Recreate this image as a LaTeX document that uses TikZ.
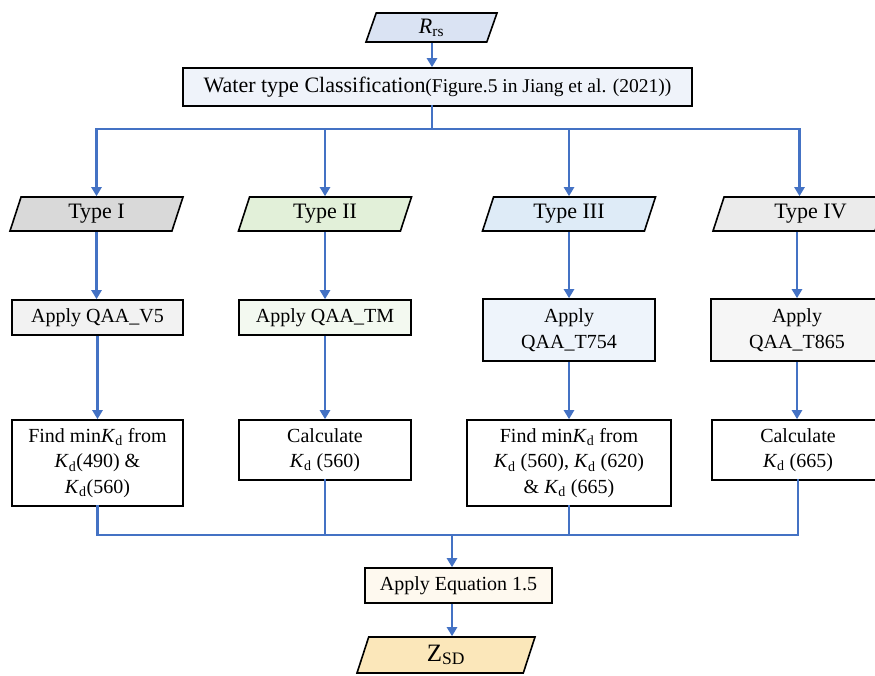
\documentclass[tikz,border=0pt]{standalone}
\usepackage{fontspec}
\setmainfont{Liberation Serif}
\usetikzlibrary{shapes.geometric,arrows.meta}
\definecolor{lineblue}{HTML}{4472C4}
\definecolor{cRrs}{HTML}{DAE3F3}
\definecolor{cCls}{HTML}{EFF3FA}
\definecolor{cTa}{HTML}{D9D9D9}
\definecolor{cTb}{HTML}{E2F0D9}
\definecolor{cTc}{HTML}{DEEBF7}
\definecolor{cTd}{HTML}{EBEBEB}
\definecolor{cAa}{HTML}{F2F2F2}
\definecolor{cAb}{HTML}{F3F9F0}
\definecolor{cAc}{HTML}{EEF4FB}
\definecolor{cAd}{HTML}{F6F6F6}
\definecolor{cEq}{HTML}{FEF9EF}
\definecolor{cZ}{HTML}{FBE7BA}
\newcommand{\KdT}{\textit{K}\textsubscript{d}}
\begin{document}
\begin{tikzpicture}[x=1pt,y=-1pt,
  box/.style={draw=black, line width=1.6pt, rectangle, inner sep=0pt, align=center,
    font=\fontsize{20}{25.5}\selectfont},
  para/.style={draw=black, line width=1.6pt, trapezium, trapezium left angle=60,
    trapezium right angle=120, trapezium stretches body, inner sep=0pt,
    minimum height=34pt, minimum width=173pt, font=\fontsize{22}{26}\selectfont},
  arr/.style={draw=lineblue, line width=2.8pt, -{Triangle[length=9pt,width=10pt]}},
  ln/.style={draw=lineblue, line width=2.8pt, line cap=rect}]
\useasboundingbox (0,0) rectangle (875,675);
\clip (0,0) rectangle (875,675);
\fill[white] (0,0) rectangle (875,675);

% top
\node[para, fill=cRrs, minimum width=131pt, minimum height=29pt] (rrs) at (431.5,27.5) {\textit{R}\textsubscript{rs}};
\node[box, fill=cCls, minimum width=509pt, minimum height=38pt, font=\fontsize{22}{26}\selectfont] (cls) at (437.5,87)
  {Water type Classification{\fontsize{19.5}{24}\selectfont(Figure.5 in Jiang et al. (2021))}};

% types
\node[para, fill=cTa] (t1) at (96.5,214) {Type I};
\node[para, fill=cTb] (t2) at (325,214) {Type II};
\node[para, fill=cTc] (t3) at (569,214) {Type III};
\node[para, fill=cTd] (t4) at (799.5,214) {\hspace*{22pt}Type IV};

% apply boxes
\node[box, fill=cAa, minimum width=171pt, minimum height=35pt] (a1) at (97.5,317.5) {Apply QAA\_V5};
\node[box, fill=cAb, minimum width=172pt, minimum height=35pt] (a2) at (325,317.5) {Apply QAA\_TM};
\node[box, fill=cAc, minimum width=172pt, minimum height=62pt] (a3) at (569,330) {Apply\\QAA\_T754};
\node[box, fill=cAd, minimum width=172pt, minimum height=62pt] (a4) at (797,330) {Apply\\QAA\_T865};

% Kd boxes
\node[box, fill=white, minimum width=171pt, minimum height=86pt] (k1) at (97.5,463)
  {Find min\KdT{} from\\\KdT(490) \&\\\KdT(560)};
\node[box, fill=white, minimum width=172pt, minimum height=60pt] (k2) at (325,450)
  {Calculate\\\KdT{} (560)};
\node[box, fill=white, minimum width=204pt, minimum height=86pt] (k3) at (569,463)
  {Find min\KdT{} from\\\KdT{} (560), \KdT{} (620)\\\& \KdT{} (665)};
\node[box, fill=white, minimum width=172pt, minimum height=60pt] (k4) at (798,450)
  {Calculate\\\KdT{} (665)};

% bottom
\node[box, fill=cEq, minimum width=187pt, minimum height=35pt] (eq) at (458.5,585.5) {Apply Equation 1.5};
\node[para, fill=cZ, minimum width=178pt, minimum height=36pt, font=\fontsize{25}{28}\selectfont] (zsd) at (446,655)
  {Z\textsubscript{SD}};

% connectors
\coordinate (sp) at (432,129);
\coordinate (cm) at (452,535);
\draw[arr] (rrs.south -| sp) -- (sp |- cls.north);
\draw[ln] (sp |- cls.south) -- (sp);
\draw[ln] (t1.north |- sp) -- (t4.north |- sp);
\foreach \t in {t1,t2,t3,t4}{
  \draw[arr] (\t.north |- sp) -- (\t.north);
}
\draw[arr] (t1.south) -- (t1.south |- a1.north);
\draw[arr] (t2.south) -- (t2.south |- a2.north);
\draw[arr] (t3.south) -- (t3.south |- a3.north);
\draw[arr] (t4.south -| a4.south) -- (a4.north);
\draw[arr] (a1.south) -- (k1.north);
\draw[arr] (a2.south) -- (k2.north);
\draw[arr] (a3.south) -- (k3.north);
\draw[arr] (a4.south) -- (a4.south |- k4.north);
\foreach \k in {k1,k2,k3,k4}{
  \draw[ln] (\k.south) -- (\k.south |- cm);
}
\draw[ln] (k1.south |- cm) -- (k4.south |- cm);
\draw[arr] (cm) -- (cm |- eq.north);
\draw[arr] (cm |- eq.south) -- (cm |- zsd.north);
\end{tikzpicture}
\end{document}
